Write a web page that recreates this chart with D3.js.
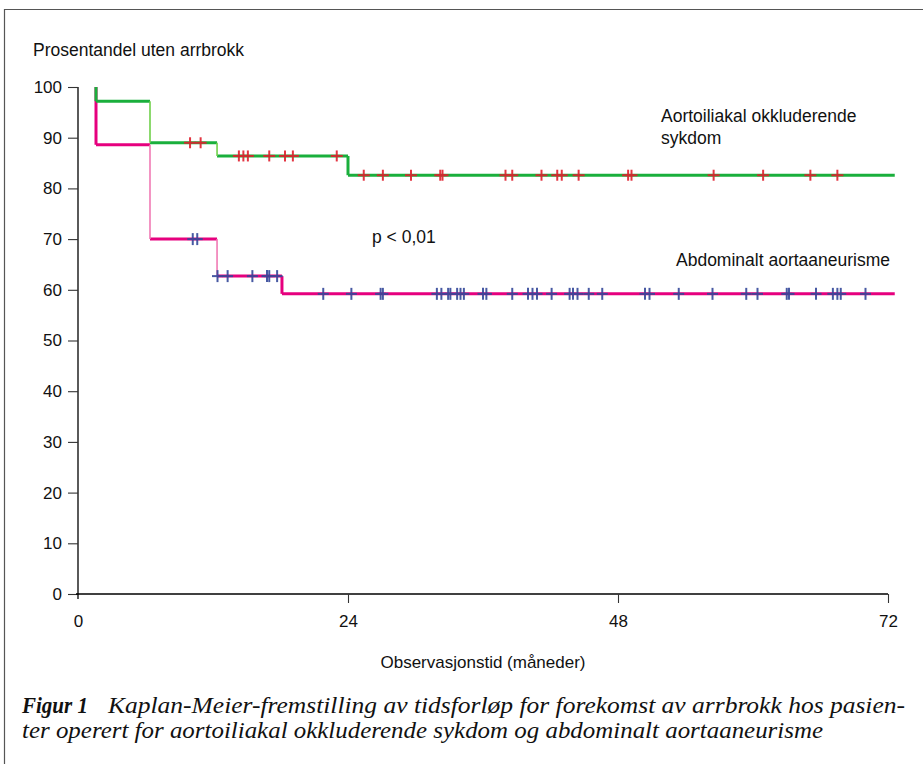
<!DOCTYPE html>
<html><head><meta charset="utf-8">
<script src="https://cdn.jsdelivr.net/npm/d3@7"></script>
<style>body{margin:0;background:#fff}svg{display:block}</style>
</head><body>
<script>
// ---- data ----
const xTicks = [0, 24, 48, 72];
const yTicks = [0, 10, 20, 30, 40, 50, 60, 70, 80, 90, 100];
const endTime = 72.6;
// Aortoiliakal okkluderende sykdom (green curve)
const aoiStepTimes = [1.6, 6.4, 12.36, 24.0];
const aoiStepValues = [100, 97.2, 89.0, 86.4, 82.6];
const aoiCensorTimes = [9.96, 10.9, 14.3, 14.7, 15.1, 17.0, 18.4, 19.1, 23.0,
  25.4, 27.1, 29.6, 32.2, 32.4, 38.0, 38.6, 41.2, 42.6, 43.0, 44.5, 48.9, 49.2, 56.5, 60.9, 65.1, 67.5];
// Abdominalt aortaaneurisme (pink curve)
const aaaStepTimes = [1.6, 6.4, 12.36, 18.13];
const aaaStepValues = [100, 88.6, 70.0, 62.7, 59.2];
const aaaCensorTimes = [10.2, 10.6, 12.4, 13.3, 15.5, 16.8, 17.0, 17.7,
  21.8, 24.3, 26.9, 27.1, 31.9, 32.3, 32.9, 33.1, 33.7, 34.0, 34.3, 36.0, 36.3, 38.6, 40.0, 40.4, 40.8,
  42.1, 43.7, 44.0, 44.4, 45.4, 46.6, 50.4, 50.8, 53.4, 56.4, 59.4, 60.4, 63.0, 63.2, 65.6, 67.1, 67.5, 67.8, 70.0];
const seriesLabels = ["Aortoiliakal okkluderende", "sykdom", "Abdominalt aortaaneurisme"];
const yTitle = "Prosentandel uten arrbrokk";
const xTitle = "Observasjonstid (måneder)";
const pText = "p < 0,01";
const captionBold = "Figur 1";
const caption1 = "Kaplan-Meier-fremstilling av tidsforløp for forekomst av arrbrokk hos pasien-";
const caption2 = "ter operert for aortoiliakal okkluderende sykdom og abdominalt aortaaneurisme";

// ---- drawing ----
const W = 923, H = 764;
const svg = d3.select("body").append("svg").attr("width", W).attr("height", H);
const x = d3.scaleLinear().domain([0, 72]).range([78, 888]);
const y = d3.scaleLinear().domain([0, 100]).range([594, 87]);
const FS = 17;
const SANS = '"Liberation Sans"';
const SERIF = '"Liberation Serif"';

// frame
svg.append("path").attr("d", `M4.5,${H} V9.5 H${W}`).attr("fill", "none").attr("stroke", "#555").attr("stroke-width", 1.2);

// axes
const yAxis = svg.append("g").attr("transform", `translate(${x(0)},0)`)
  .call(d3.axisLeft(y).tickValues(yTicks).tickSize(10).tickPadding(6).tickSizeOuter(0));
const xAxis = svg.append("g").attr("transform", `translate(0,${y(0)})`)
  .call(d3.axisBottom(x).tickValues(xTicks).tickSize(9).tickPadding(12).tickSizeOuter(0));
[yAxis, xAxis].forEach(g => {
  g.select(".domain").attr("stroke", "#000").attr("stroke-width", 1.3);
  g.selectAll(".tick line").attr("stroke", "#333").attr("stroke-width", 1.1);
  g.selectAll("text").style("font-family", SANS).attr("font-size", FS).attr("fill", "#111");
});
xAxis.select(".domain").attr("d", `M${x(0)-2},0H${x(72)}`);
xAxis.selectAll(".tick").filter(d => d === 0).select("line").remove();
yAxis.select(".domain").attr("d", `M0,${y(100)}V${y(0)+5}`);

svg.append("text").style("font-family", SANS).attr("x", 33).attr("y", 56).attr("font-size", FS + 0.5).attr("fill", "#111").text(yTitle);
svg.append("text").style("font-family", SANS).attr("x", 483).attr("y", 668).attr("text-anchor", "middle").attr("font-size", FS).attr("fill", "#111").text(xTitle);

// curves
function drawCurve(times, values, color, light) {
  const g = svg.append("g");
  const allT = [...times, endTime];
  for (let i = 0; i < times.length; i++) {
    g.append("line").attr("x1", x(allT[i])).attr("x2", x(allT[i + 1]))
      .attr("y1", y(values[i + 1])).attr("y2", y(values[i + 1]))
      .attr("stroke", color).attr("stroke-width", 3);
  }
  for (let i = 0; i < times.length; i++) {
    const strong = i === 0 || i === times.length - 1;
    g.append("line").attr("x1", x(times[i])).attr("x2", x(times[i]))
      .attr("y1", y(values[i])).attr("y2", y(values[i + 1]))
      .attr("stroke", strong ? color : light).attr("stroke-width", strong ? 3 : 1.6);
  }
  return g;
}
function valueAt(times, values, t) {
  let v = values[0];
  for (let i = 0; i < times.length; i++) if (t >= times[i]) v = values[i + 1];
  return v;
}
function drawCensors(times, stepT, stepV, color, hw, hh) {
  const g = svg.append("g").attr("stroke", color).attr("stroke-width", 2).attr("opacity", 0.9);
  times.forEach(t => {
    const cx = x(t), cy = y(valueAt(stepT, stepV, t));
    g.append("line").attr("x1", cx - hw).attr("x2", cx + hw).attr("y1", cy).attr("y2", cy);
    g.append("line").attr("x1", cx).attr("x2", cx).attr("y1", cy - hh).attr("y2", cy + hh);
  });
}
drawCurve(aaaStepTimes, aaaStepValues, "#e6007e", "#f07ab4");
drawCurve(aoiStepTimes, aoiStepValues, "#1aaf3c", "#6fd04a");
drawCensors(aoiCensorTimes, aoiStepTimes, aoiStepValues, "#e0202e", 6, 5.5);
drawCensors(aaaCensorTimes, aaaStepTimes, aaaStepValues, "#34489a", 5.5, 6);

// labels
const lab = svg.append("g").attr("font-size", FS + 0.5).attr("fill", "#111");
[[seriesLabels[0], 661, 122], [seriesLabels[1], 661, 144], [seriesLabels[2], 676, 266], [pText, 372, 243]]
  .forEach(([t, lx, ly]) => lab.append("text").style("font-family", SANS).attr("x", lx).attr("y", ly).text(t));

// caption
const c1 = svg.append("text").style("font-family", SERIF).attr("y", 713).attr("font-size", 24).attr("fill", "#111");
c1.append("tspan").attr("x", 22).attr("font-weight", "bold").attr("font-style", "italic")
  .attr("textLength", 66).attr("lengthAdjust", "spacingAndGlyphs").text(captionBold);
c1.append("tspan").attr("x", 108).attr("font-style", "italic").attr("textLength", 797).attr("lengthAdjust", "spacingAndGlyphs").text(caption1);
svg.append("text").style("font-family", SERIF).attr("x", 22).attr("y", 738).attr("font-size", 24).attr("font-style", "italic").attr("fill", "#111")
  .attr("textLength", 801).attr("lengthAdjust", "spacingAndGlyphs").text(caption2);
</script>
</body></html>
